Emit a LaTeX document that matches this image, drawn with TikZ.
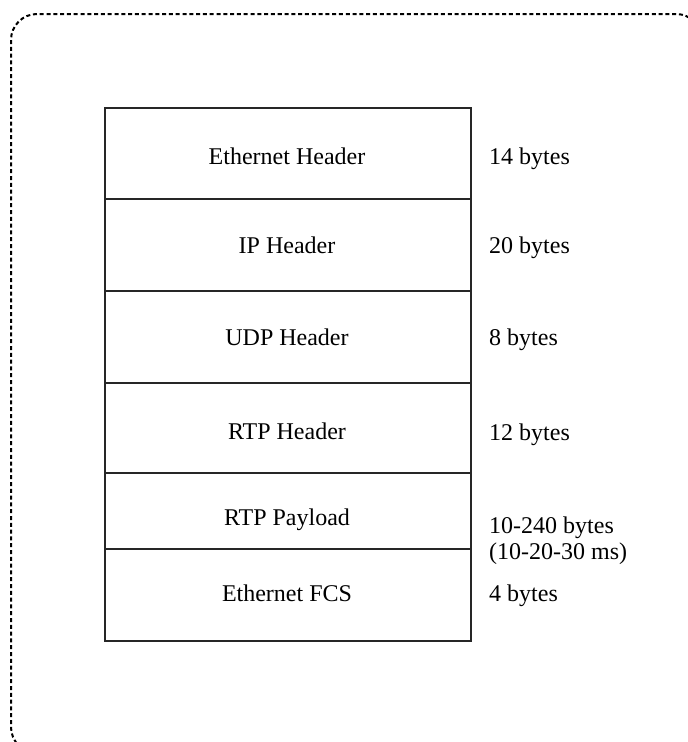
\documentclass[tikz,border=0pt]{standalone}
\usepackage{fontspec}
\setmainfont{Liberation Serif}
\begin{document}
\begin{tikzpicture}[x=1pt,y=-1pt,
  rowbox/.style={draw=black!85, line width=1.5pt, minimum width=366pt, inner sep=0pt, anchor=north west},
  rowtext/.style={font=\fontsize{24}{26}\selectfont, anchor=base, inner sep=0pt},
  sizetext/.style={font=\fontsize{24}{26}\selectfont, anchor=base west, inner sep=0pt, align=left},
  outline/.style={line width=2pt, dash pattern=on 4pt off 2.8pt, rounded corners=26pt}]
\useasboundingbox (0,0) rectangle (688,742);
\begin{scope}
\clip (0,0) rectangle (688,742);
\draw[outline] (11,14) rectangle (702,753);
\end{scope}
% rows
\node[rowbox, minimum height=91pt] (r1) at (104,107) {};
\node[rowbox, minimum height=92pt] (r2) at (104,198) {};
\node[rowbox, minimum height=92pt] (r3) at (104,290) {};
\node[rowbox, minimum height=90pt] (r4) at (104,382) {};
\node[rowbox, minimum height=76pt] (r5) at (104,472) {};
\node[rowbox, minimum height=92pt] (r6) at (104,548) {};
% row texts
\node[rowtext] (t1) at (287,164) {Ethernet Header};
\node[rowtext] (t2) at (287,253) {IP Header};
\node[rowtext] (t3) at (287,345) {UDP Header};
\node[rowtext] (t4) at (287,439) {RTP Header};
\node[rowtext] (t5) at (287,525) {RTP Payload};
\node[rowtext] (t6) at (287,601) {Ethernet FCS};
% sizes
\node[sizetext] (s1) at (489,164) {14 bytes};
\node[sizetext] (s2) at (489,253) {20 bytes};
\node[sizetext] (s3) at (489,345) {8 bytes};
\node[sizetext] (s4) at (489,440) {12 bytes};
\node[sizetext] (s5a) at (489,533) {10-240 bytes};
\node[sizetext] (s5b) at (489,559) {(10-20-30 ms)};
\node[sizetext] (s6) at (489,601) {4 bytes};
\end{tikzpicture}
\end{document}
